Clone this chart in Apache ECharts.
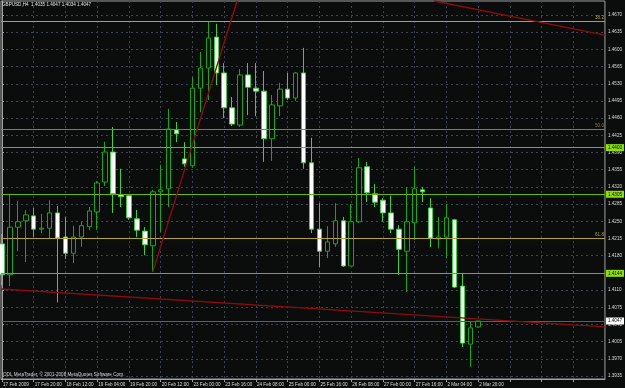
<!DOCTYPE html>
<html lang="en">
<head>
<meta charset="UTF-8">
<title>GBPUSD,H4</title>
<script src="https://cdn.jsdelivr.net/npm/echarts@6/dist/echarts.min.js"></script>
<style>
    *{
        margin: 0;
        padding: 0;
    }
    body{
        background: #0b0c0c;
        overflow: hidden;
    }
    .container{
        width: 625px;
        height: 388px;
    }
</style>
</head>
<body>
<div class="container"></div>
<script>
    // H4 bars, oldest first
    let opens = [1.4204,1.4141,1.4238,1.4251,1.4261,1.4234,1.4236,1.4267,1.4218,1.4185,
                 1.4218,1.4239,1.4269,1.4330,1.4391,1.4304,1.4302,1.4255,1.4230,1.4200,
                 1.4310,1.4316,1.4436,1.4377,1.4363,1.4521,1.4562,1.4625,1.4552,1.4481,
                 1.4446,1.4548,1.4521,1.4515,1.4418,1.4485,1.4519,1.4501,1.4552,1.4369,
                 1.4234,1.4189,1.4204,1.4251,1.4159,1.4249,1.4361,1.4306,1.4293,1.4267,
                 1.4234,1.4189,1.4247,1.4314,1.4277,1.4214,1.4218,1.4253,1.4118,1.4000,
                 1.4035];
    let highs = [1.4224,1.4306,1.4291,1.4273,1.4277,1.4265,1.4293,1.4281,1.4259,1.4241,
                 1.4249,1.4279,1.4332,1.4412,1.4442,1.4357,1.4304,1.4273,1.4238,1.4314,
                 1.4365,1.4479,1.4452,1.4411,1.4544,1.4595,1.4656,1.4652,1.4572,1.4503,
                 1.4560,1.4572,1.4572,1.4556,1.4507,1.4532,1.4552,1.4554,1.4603,1.4420,
                 1.4287,1.4240,1.4287,1.4259,1.4285,1.4379,1.4371,1.4326,1.4297,1.4302,
                 1.4242,1.4320,1.4361,1.4320,1.4297,1.4259,1.4285,1.4255,1.4145,1.4045,
                 1.4047];
    let lows = [1.4120,1.4118,1.4189,1.4167,1.4218,1.4226,1.4216,1.4085,1.4173,1.4165,
                1.4198,1.4232,1.4232,1.4322,1.4267,1.4279,1.4253,1.4218,1.4181,1.4147,
                1.4228,1.4279,1.4411,1.4361,1.4359,1.4472,1.4497,1.4527,1.4460,1.4444,
                1.4442,1.4466,1.4464,1.4371,1.4373,1.4464,1.4497,1.4495,1.4357,1.4226,
                1.4157,1.4175,1.4198,1.4157,1.4159,1.4247,1.4289,1.4279,1.4249,1.4226,
                1.4141,1.4106,1.4212,1.4289,1.4197,1.4195,1.4175,1.4114,1.3994,1.3954,
                1.4034];
    let closes = [1.4141,1.4238,1.4249,1.4263,1.4234,1.4236,1.4267,1.4216,1.4185,1.4218,
                  1.4241,1.4271,1.4328,1.4391,1.4306,1.4300,1.4257,1.4232,1.4202,1.4310,
                  1.4314,1.4438,1.4428,1.4367,1.4521,1.4562,1.4623,1.4552,1.4481,1.4448,
                  1.4548,1.4523,1.4515,1.4418,1.4487,1.4519,1.4501,1.4552,1.4369,1.4234,
                  1.4189,1.4208,1.4251,1.4159,1.4249,1.4359,1.4308,1.4289,1.4267,1.4234,
                  1.4193,1.4249,1.4316,1.4310,1.4216,1.4218,1.4257,1.4116,1.4002,1.4033,
                  1.4047];

    // one label every 4 bars
    let timeLabels = ['17 Feb 2009','17 Feb 20:00','18 Feb 12:00','19 Feb 04:00','19 Feb 20:00',
                      '20 Feb 12:00','23 Feb 00:00','23 Feb 16:00','24 Feb 08:00','25 Feb 00:00',
                      '25 Feb 16:00','26 Feb 08:00','27 Feb 00:00','27 Feb 16:00','2 Mar 04:00',
                      '2 Mar 20:00'];
    let priceTicks = [1.3935,1.3970,1.4005,1.4040,1.4075,1.4110,1.4145,1.4180,1.4215,1.4250,
                      1.4285,1.4320,1.4355,1.4390,1.4425,1.4460,1.4495,1.4530,1.4565,1.4600,
                      1.4635,1.4670];

    let fiboLevels = [1.4658, 1.4438, 1.4216];
    let fiboNames = ['38.2', '50.0', '61.8'];
    let levelLines = [1.4400, 1.4305, 1.4144];
    let lastPrice = 1.4047;
    let header = 'GBPUSD,H4  1.4035 1.4047 1.4034 1.4047';

    // trend lines, [bar index, price] pairs
    let trendLines = [
        [[-0.126, 1.4112], [75.97, 1.4035]],
        [[54.47, 1.46985], [75.97, 1.4629]],
        [[19, 1.4147], [29.62, 1.46985]]
    ];

    let candles = opens.map((o, i) => [i, o, closes[i], lows[i], highs[i]]);

    let labelTicks = timeLabels.map((t, k) => k * 4);
    let gridTicks = [];
    for (let k = 0; k <= 72; k += 4) gridTicks.push(k);

    let font = 'Liberation Sans';
    let dash = {color: '#3b4450', type: [2, 3], width: 1};

    let marks = [];
    fiboLevels.forEach((v, i) => {
        let c = i == 1 ? '#8c7c3c' : '#b4a42a';
        marks.push({
            yAxis: v,
            lineStyle: {color: c, type: 'solid', width: 1},
            label: {show: true, position: 'insideEndTop', formatter: fiboNames[i],
                    color: c, fontSize: 4.6, fontFamily: font, distance: 1}
        });
    });
    levelLines.forEach(v => {
        marks.push({
            yAxis: v,
            lineStyle: {color: '#66b800', type: 'solid', width: 1},
            label: {show: true, position: 'end', formatter: v.toFixed(4), color: '#000',
                    backgroundColor: '#8ee000', padding: [1, 2], fontSize: 4.6,
                    fontFamily: font, distance: 1}
        });
    });
    marks.push({
        yAxis: lastPrice,
        lineStyle: {color: '#56606c', type: 'solid', width: 1},
        label: {show: true, position: 'end', formatter: lastPrice.toFixed(4), color: '#000',
                backgroundColor: '#ffffff', padding: [1, 2], fontSize: 4.6,
                fontFamily: font, distance: 1}
    });
    trendLines.forEach(l => {
        marks.push([
            {coord: l[0], lineStyle: {color: '#8a0c0c', type: 'solid', width: 1.4}, label: {show: false}},
            {coord: l[1]}
        ]);
    });

    let mycharts = echarts.init(document.querySelector('.container'));

    let options = {
        animation: false,
        backgroundColor: '#0b0c0c',
        textStyle: {fontFamily: font},
        title: [{
            text: header,
            left: 2, top: 2, padding: 0,
            textStyle: {fontSize: 4.6, color: '#e6e6e6', fontWeight: 'normal', fontFamily: font}
        }, {
            text: 'ODL MetaTrader, © 2001-2008 MetaQuotes Software Corp.',
            left: 3, top: 372, padding: 0,
            textStyle: {fontSize: 4.6, color: '#d8d8d8', fontWeight: 'normal', fontFamily: font}
        }],
        grid: {
            left: 1, right: 19, top: 1, bottom: 9,
            show: true, borderColor: '#a0a0a0', borderWidth: 1,
            backgroundColor: 'transparent'
        },
        xAxis: {
            type: 'value',
            min: -0.126,
            max: 75.97,
            axisLine: {show: true, lineStyle: {color: '#a0a0a0'}},
            axisTick: {show: true, customValues: gridTicks, length: 3, lineStyle: {color: '#a0a0a0'}},
            axisLabel: {
                customValues: labelTicks,
                formatter: v => timeLabels[Math.round(v / 4)] || '',
                align: 'left', margin: 3, fontSize: 4.6, color: '#dcdcdc', fontFamily: font,
                padding: [0, 0, 0, 1]
            },
            splitLine: {show: true, lineStyle: dash}
        },
        yAxis: {
            type: 'value',
            position: 'right',
            min: 1.39289,
            max: 1.46985,
            axisLine: {show: true, lineStyle: {color: '#a0a0a0'}},
            axisTick: {show: true, customValues: priceTicks, length: 2, lineStyle: {color: '#a0a0a0'}},
            axisLabel: {
                customValues: priceTicks,
                formatter: v => v.toFixed(4),
                margin: 3, fontSize: 4.6, color: '#dcdcdc', fontFamily: font
            },
            splitLine: {show: true, lineStyle: dash}
        },
        series: [{
            type: 'candlestick',
            data: candles,
            dimensions: ['bar', 'open', 'close', 'low', 'high'],
            encode: {x: 0, y: [1, 2, 3, 4]},
            barWidth: 5,
            itemStyle: {
                color: '#0b0c0c',
                color0: '#ffffff',
                borderColor: '#14a814',
                borderColor0: '#3ad23a',
                borderWidth: 1
            },
            markLine: {
                silent: true,
                precision: 5,
                symbol: ['none', 'none'],
                animation: false,
                data: marks
            }
        }]
    };

    mycharts.setOption(options);
</script>
</body>
</html>
